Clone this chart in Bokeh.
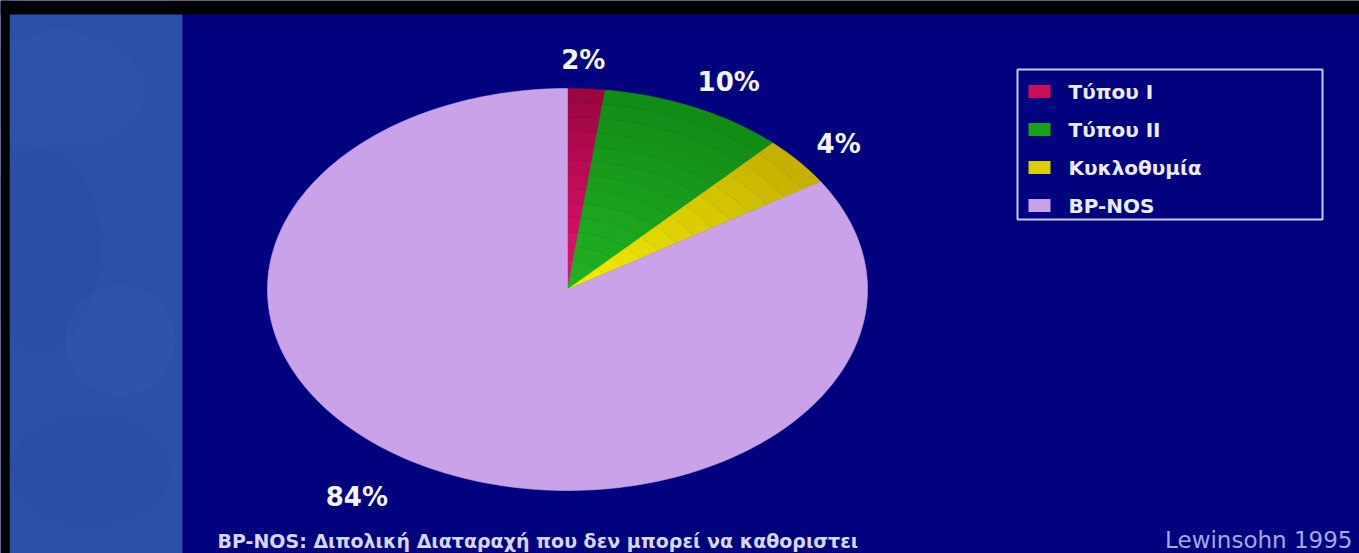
import math
from bokeh.plotting import figure
from bokeh.models import Range1d
from bokeh.core.properties import value
from bokeh.embed import file_html
from bokeh.resources import INLINE

# ---- data ----
categories = ["Τύπου I", "Τύπου II", "Κυκλοθυμία", "BP-NOS"]
percentages = [2, 10, 4, 84]
slice_colors = ["#cc0e58", "#1aa01a", "#dccf00", "#c9a2ea"]
# inner (near centre) and outer tints used to shade each slice
inner_colors = ["#ec1272", "#22b424", "#f6f000", "#c9a2ea"]
outer_colors = ["#98063e", "#128a16", "#c4ae00", "#c9a2ea"]
footnote = "BP-NOS: Διπολική Διαταραχή που δεν μπορεί να καθοριστει"
source_note = "Lewinsohn 1995"

# ---- layout (screen-like coordinates, y grows downward) ----
W, H = 1359, 553
CX, CY, RX, RY = 567, 289, 300, 201
NAVY = "#02027e"

p = figure(width=W, height=H, x_range=Range1d(0, W), y_range=Range1d(H, 0),
           output_backend="svg", toolbar_location=None, min_border=0,
           background_fill_color=NAVY, border_fill_color=NAVY,
           outline_line_color=None)
p.axis.visible = False
p.grid.visible = False

# decorative left panel and frame bands
p.quad(left=9, right=182, bottom=H, top=13, fill_color="#2c4fa7", line_color=None)
for (ex, ey, ew, eh, col, al) in [(60, 90, 170, 120, "#3a62bb", 0.18),
                                  (120, 340, 110, 110, "#3c66c0", 0.2),
                                  (40, 250, 120, 200, "#2646a0", 0.2),
                                  (90, 470, 160, 110, "#2748a2", 0.18)]:
    p.ellipse(x=ex, y=ey, width=ew, height=eh, fill_color=col, fill_alpha=al,
              line_color=None)
p.quad(left=0, right=9, bottom=H, top=0, fill_color="black", line_color=None)
p.quad(left=0, right=W, bottom=14, top=0, fill_color="black", line_color=None)


def mix(c1, c2, t):
    a = [int(c1[i:i + 2], 16) for i in (1, 3, 5)]
    b = [int(c2[i:i + 2], 16) for i in (1, 3, 5)]
    return "#%02x%02x%02x" % tuple(round(x + (y - x) * t) for x, y in zip(a, b))


# ---- pie slices, clockwise from 12 o'clock, shaded in radial bands ----
total = float(sum(percentages))
RINGS = 14
xs, ys, fills = [], [], []
cum = 0.0
mids = []
for v, ci, co in zip(percentages, inner_colors, outer_colors):
    a0 = 2 * math.pi * cum / total
    a1 = 2 * math.pi * (cum + v) / total
    n = max(4, int(240 * v / total))
    angles = [a0 + (a1 - a0) * i / n for i in range(n + 1)]
    rings = 1 if ci == co else RINGS
    for k in range(rings):
        r0, r1 = k / rings, (k + 1) / rings
        px = [CX + r1 * RX * math.sin(a) for a in angles]
        py = [CY - r1 * RY * math.cos(a) for a in angles]
        px += [CX + r0 * RX * math.sin(a) for a in reversed(angles)]
        py += [CY - r0 * RY * math.cos(a) for a in reversed(angles)]
        xs.append(px)
        ys.append(py)
        fills.append(mix(ci, co, (k + 0.5) / rings))
    mids.append((a0 + a1) / 2)
    cum += v

p.patches(xs=xs, ys=ys, fill_color=fills, line_color=fills, line_width=0.6)

# ---- percentage labels ----
K = 1.16
label_dx = [-6, 13, 3, -43]
lx = [CX + K * RX * math.sin(a) + d for a, d in zip(mids, label_dx)]
ly = [CY - K * RY * math.cos(a) + 3 for a in mids]
p.text(x=lx, y=ly, text=[f"{v}%" for v in percentages],
       text_font=value("DejaVu Sans"), text_font_style="bold",
       text_font_size="26px", text_color="#f4f4ff",
       text_align="center", text_baseline="middle")

# ---- legend box ----
p.quad(left=1017, right=1322, top=69, bottom=219, fill_color=None,
       line_color="#c8c8f0", line_width=2)
row_y = [91 + 38 * i for i in range(len(categories))]
p.rect(x=[1039] * 4, y=row_y, width=22, height=13, fill_color=slice_colors,
       line_color=None)
p.text(x=[1068] * 4, y=row_y, text=categories,
       text_font=value("DejaVu Sans"), text_font_style="bold",
       text_font_size="20px", text_color="#ececff",
       text_align="left", text_baseline="middle")

# ---- footnotes ----
p.text(x=[217], y=[540], text=[footnote], text_font=value("DejaVu Sans"),
       text_font_style="bold", text_font_size="19px", text_color="#d6d6ff",
       text_align="left", text_baseline="middle")
p.text(x=[1352], y=[539], text=[source_note], text_font=value("DejaVu Sans"),
       text_font_size="23px", text_color="#a8a8e4",
       text_align="right", text_baseline="middle")

open("out.html", "w").write(file_html(p, INLINE))
